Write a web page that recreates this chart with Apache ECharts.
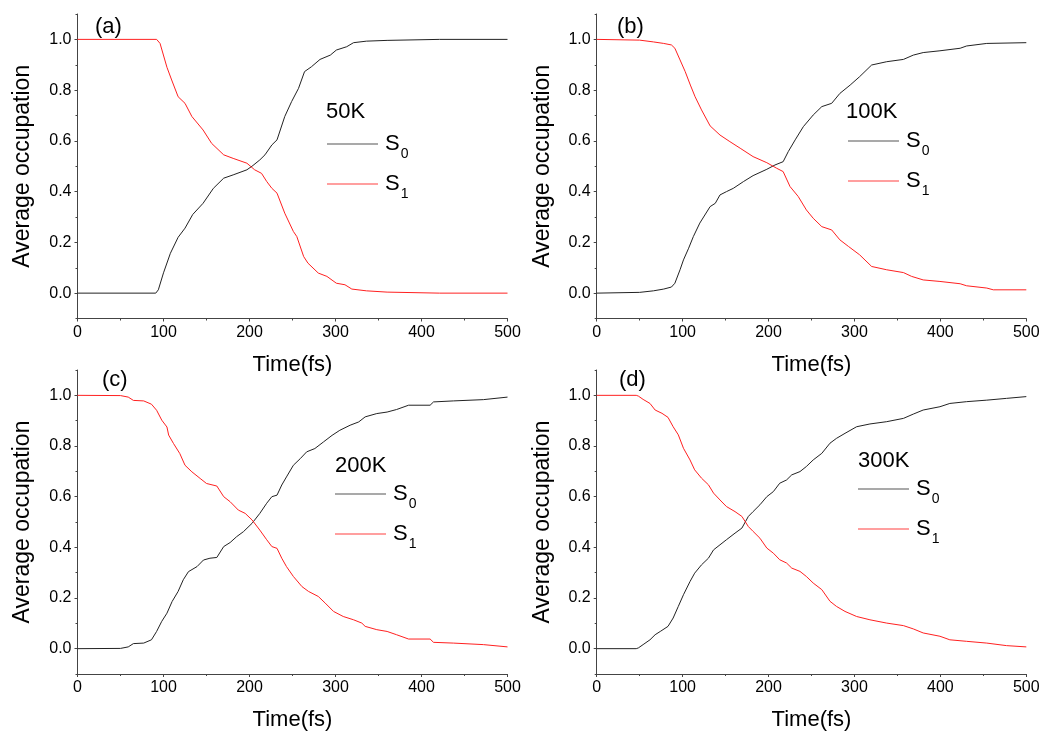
<!DOCTYPE html>
<html>
<head>
<meta charset="utf-8">
<script src="https://cdn.jsdelivr.net/npm/echarts@6/dist/echarts.min.js"></script>
<style>
  html, body { margin: 0; padding: 0; background: #fff; }
  #main { width: 1051px; height: 733px; }
</style>
</head>
<body>
<div id="main"></div>
<script>
// [time (fs), average occupation]
const s0_50K = [[0,0],[91,0],[94,0.013],[100,0.08],[108,0.157],[117,0.22],[125,0.256],[134,0.31],[146,0.354],[158,0.413],[170,0.453],[181,0.466],[197,0.486],[204,0.503],[212,0.525],[218,0.545],[226,0.584],[232,0.604],[241,0.696],[249,0.755],[257,0.807],[264,0.873],[272,0.892],[282,0.921],[294,0.938],[301,0.958],[313,0.971],[321,0.987],[336,0.993],[360,0.996],[421,1.0],[500,1.0]];
const s1_50K = [[0,1],[92,1],[96,0.984],[104,0.89],[109.5,0.84],[117,0.774],[125,0.748],[133,0.696],[146,0.643],[156,0.59],[170,0.545],[181,0.531],[197,0.512],[206,0.486],[214,0.472],[220,0.44],[226,0.413],[232,0.394],[241,0.315],[251,0.243],[255,0.223],[263,0.144],[268,0.118],[280,0.079],[290,0.066],[301,0.039],[311,0.033],[319,0.016],[336,0.009],[360,0.004],[421,0],[500,0]];

const s0_100K = [[0,0],[50,0.003],[66,0.009],[78,0.016],[87,0.024],[91,0.039],[97,0.092],[101,0.131],[107,0.177],[112.5,0.223],[120,0.276],[132,0.341],[138,0.354],[143.5,0.387],[151,0.4],[159,0.413],[171,0.44],[182,0.463],[198,0.488],[207.5,0.505],[217,0.518],[223,0.558],[231,0.604],[240.5,0.656],[252,0.702],[262,0.735],[273.5,0.748],[283,0.787],[295,0.82],[306,0.853],[320,0.899],[337.5,0.912],[357,0.921],[368.5,0.938],[380,0.948],[399.5,0.955],[423,0.965],[430.5,0.974],[454,0.984],[500,0.987]];
const s1_100K = [[0,1],[50,0.997],[66,0.99],[78,0.984],[87,0.978],[91,0.965],[97,0.919],[103,0.873],[109,0.82],[114.5,0.774],[122,0.722],[132,0.659],[143.5,0.623],[155,0.597],[167,0.571],[182,0.538],[198,0.514],[209.5,0.492],[217,0.479],[225,0.42],[234.5,0.381],[244,0.328],[252,0.295],[262,0.262],[273.5,0.249],[283,0.21],[293,0.184],[306,0.151],[320,0.105],[337.5,0.092],[357,0.081],[366.5,0.066],[380,0.052],[399.5,0.046],[423,0.037],[430.5,0.029],[454,0.02],[461.6,0.013],[500,0.013]];

const s0_200K = [[0,0],[50,0.001],[59,0.007],[65,0.02],[77,0.022],[86,0.035],[92,0.068],[98,0.108],[104,0.14],[110,0.186],[117,0.226],[123,0.272],[129,0.304],[139,0.324],[146.5,0.35],[154,0.357],[162,0.36],[170,0.403],[177.5,0.419],[185,0.442],[193,0.462],[203,0.495],[212,0.534],[220,0.574],[226,0.6],[232,0.606],[237.5,0.646],[243,0.678],[251,0.724],[259,0.75],[266.5,0.777],[276,0.79],[286,0.816],[296,0.842],[305,0.862],[317,0.882],[327,0.895],[334.5,0.915],[348,0.928],[360,0.934],[371,0.944],[385,0.961],[410,0.961],[414,0.974],[437,0.978],[472,0.983],[500,0.993]];
const s1_200K = [[0,1],[50,0.999],[59,0.993],[65,0.98],[77,0.978],[86,0.965],[92,0.941],[98,0.902],[104,0.875],[106,0.843],[111.6,0.81],[119,0.77],[125,0.724],[133,0.698],[142.6,0.672],[150,0.652],[162,0.642],[170,0.6],[177.5,0.58],[187,0.547],[195,0.534],[203,0.508],[212,0.468],[220,0.43],[226,0.403],[232,0.396],[237.5,0.357],[243,0.324],[251,0.285],[261,0.245],[268.6,0.226],[280,0.206],[288,0.18],[297.7,0.147],[309,0.127],[321,0.114],[330.6,0.101],[334.5,0.088],[348,0.075],[360,0.068],[371,0.055],[385,0.038],[410,0.038],[414,0.025],[437,0.022],[472,0.016],[500,0.007]];

const s0_300K = [[0,0],[46,0],[48.5,0.003],[54,0.016],[62,0.035],[68,0.055],[74,0.068],[83,0.088],[89,0.121],[95,0.167],[101,0.213],[108.6,0.265],[114,0.298],[122,0.331],[130,0.357],[136,0.39],[143.5,0.41],[151,0.43],[161,0.456],[169,0.476],[176.5,0.522],[182,0.541],[190,0.568],[198,0.6],[205.6,0.62],[213,0.653],[221,0.666],[227,0.686],[236.6,0.699],[244,0.719],[252,0.745],[262,0.771],[271.5,0.811],[279,0.83],[289,0.85],[302.5,0.876],[318,0.887],[337.5,0.896],[357,0.909],[368.5,0.926],[380,0.942],[399.5,0.955],[411,0.968],[430.5,0.975],[454,0.981],[477,0.988],[500,0.995]];
const s1_300K = [[0,1],[46,1],[48.5,0.997],[54,0.984],[62,0.968],[68,0.942],[76,0.929],[83,0.913],[89,0.876],[95,0.844],[101,0.791],[108.6,0.745],[114,0.706],[122,0.673],[130,0.647],[136,0.614],[143.5,0.587],[151,0.561],[161,0.541],[169,0.522],[176.5,0.482],[182,0.463],[190,0.436],[198,0.397],[205.6,0.377],[213,0.351],[221,0.338],[227,0.318],[236.6,0.305],[244,0.285],[252,0.259],[262,0.233],[271.5,0.187],[279,0.167],[289,0.147],[302.5,0.127],[318,0.114],[337.5,0.101],[357,0.091],[368.5,0.078],[380,0.062],[399.5,0.049],[411,0.035],[430.5,0.029],[454,0.022],[477,0.012],[500,0.007]];

const panelTags = ['(a)', '(b)', '(c)', '(d)'];
const temperatures = ['50K', '100K', '200K', '300K'];
const seriesS0 = [s0_50K, s0_100K, s0_200K, s0_300K];
const seriesS1 = [s1_50K, s1_100K, s1_200K, s1_300K];
const yMajorTicks = [0, 0.2, 0.4, 0.6, 0.8, 1.0];
const yMinorTicks = [-0.1, 0.1, 0.3, 0.5, 0.7, 0.9, 1.1];

const FONT = 'Liberation Sans, Arial, sans-serif';

// panel boxes in px
const grids = [
  { left: 77.5, right: 543.5, top: 14, bottom: 414.5 },
  { left: 596.7, right: 24.7, top: 14, bottom: 414.5 },
  { left: 77.5, right: 543.5, top: 370, bottom: 59 },
  { left: 596.7, right: 24.7, top: 370, bottom: 59 }
];
const tagPos = [[95, 16], [617, 16], [102, 369], [619, 369]];
const tempPos = [[326, 101], [846, 101], [335, 455], [858, 450]];
const legendPos = [[327, 133], [848, 130], [335, 483], [858, 478]];

const chart = echarts.init(document.getElementById('main'));

const xAxes = [], yAxes = [], series = [], titles = [], legends = [];
grids.forEach(function (g, i) {
  xAxes.push({
    type: 'value', gridIndex: i, min: 0, max: 500, interval: 100,
    name: 'Time(fs)', nameLocation: 'middle', nameGap: 35,
    nameTextStyle: { fontFamily: FONT, fontSize: 22, color: '#000' },
    axisLine: { onZero: false, lineStyle: { color: '#444', width: 1 } },
    axisTick: { length: 3, lineStyle: { color: '#444' } },
    minorTick: { show: true, splitNumber: 2, length: 2, lineStyle: { color: '#444' } },
    axisLabel: { fontFamily: FONT, fontSize: 16, color: '#000', margin: 6 },
    splitLine: { show: false }
  });
  yAxes.push({
    type: 'value', gridIndex: i, min: -0.1, max: 1.1,
    name: 'Average occupation', nameLocation: 'middle', nameGap: 43,
    nameTextStyle: { fontFamily: FONT, fontSize: 23, color: '#000' },
    axisLine: { onZero: false, lineStyle: { color: '#444', width: 1 } },
    axisTick: { length: 3, customValues: yMajorTicks, lineStyle: { color: '#444' } },
    axisLabel: {
      fontFamily: FONT, fontSize: 16, color: '#000', margin: 6,
      customValues: yMajorTicks,
      formatter: function (v) { return v.toFixed(1); }
    },
    splitLine: { show: false }
  });
  // minor ticks only
  yAxes.push({
    type: 'value', gridIndex: i, min: -0.1, max: 1.1,
    axisLine: { show: false },
    axisTick: { inside: true, length: 2, customValues: yMinorTicks, lineStyle: { color: '#444' } },
    axisLabel: { show: false },
    splitLine: { show: false }
  });
  series.push({
    name: 'S0', type: 'line', xAxisIndex: i, yAxisIndex: i * 2,
    data: seriesS0[i], showSymbol: false, symbol: 'none', animation: false,
    lineStyle: { color: '#222', width: 1 }, itemStyle: { color: '#555' }
  });
  series.push({
    name: 'S1', type: 'line', xAxisIndex: i, yAxisIndex: i * 2,
    data: seriesS1[i], showSymbol: false, symbol: 'none', animation: false,
    lineStyle: { color: '#ff2020', width: 1 }, itemStyle: { color: '#ff4040' }
  });
  titles.push({
    text: panelTags[i], left: tagPos[i][0], top: tagPos[i][1], padding: 0,
    textStyle: { fontFamily: FONT, fontSize: 22, fontWeight: 'normal', color: '#000' }
  });
  titles.push({
    text: temperatures[i], left: tempPos[i][0], top: tempPos[i][1], padding: 0,
    textStyle: { fontFamily: FONT, fontSize: 22, fontWeight: 'normal', color: '#000' }
  });
  legends.push({
    data: ['S0', 'S1'], orient: 'vertical', left: legendPos[i][0], top: legendPos[i][1],
    padding: 0, itemWidth: 51, itemHeight: 14, itemGap: 12, selectedMode: false,
    icon: 'path://M0,0 L51,0 L51,1 L0,1 Z',
    formatter: function (name) { return '{s|S}{sub|' + name.slice(1) + '}'; },
    textStyle: {
      rich: {
        s: { fontFamily: FONT, fontSize: 22, color: '#000', padding: [0, 0, 0, 2] },
        sub: { fontFamily: FONT, fontSize: 14, color: '#000', padding: [20, 0, 0, 1] }
      }
    }
  });
});

chart.setOption({
  backgroundColor: '#fff',
  animation: false,
  title: titles,
  legend: legends,
  grid: grids,
  xAxis: xAxes,
  yAxis: yAxes,
  series: series
});
</script>
</body>
</html>
